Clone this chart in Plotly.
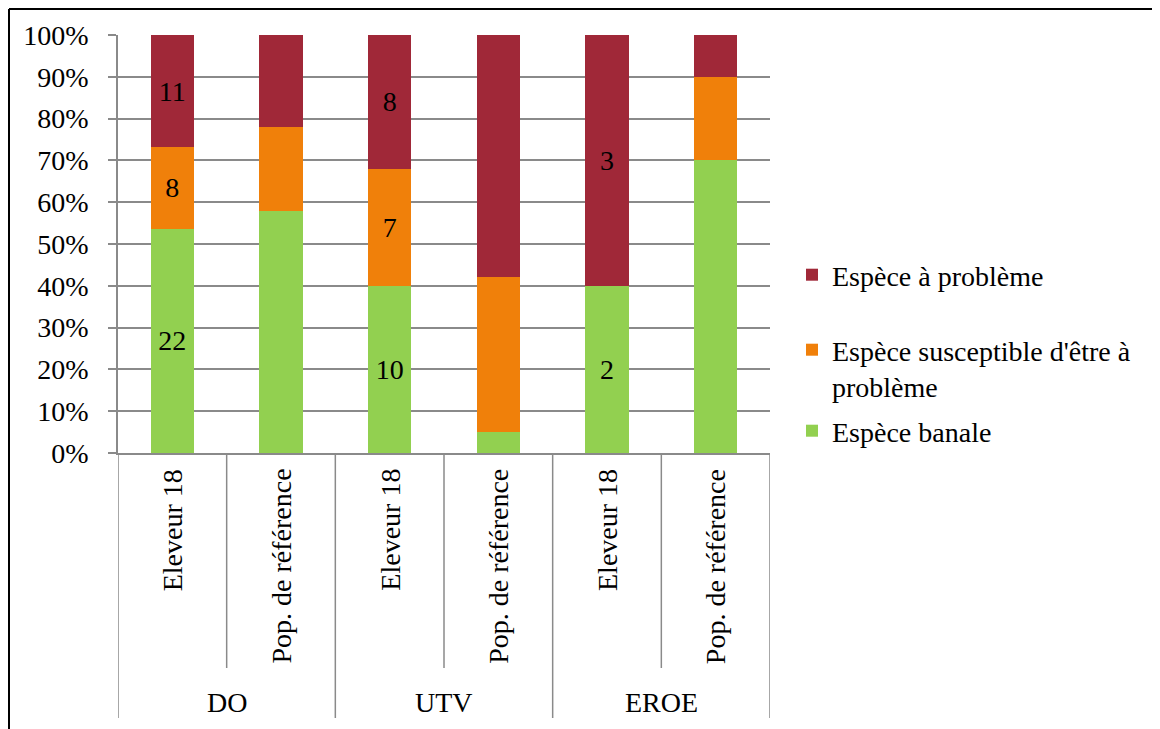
import plotly.graph_objects as go

# data
groups = ["DO", "UTV", "EROE"]
categories = ["Eleveur 18", "Pop. de référence",
              "Eleveur 18", "Pop. de référence",
              "Eleveur 18", "Pop. de référence"]
# Eleveur 18 bars are species counts, Pop. de référence bars are percentages
banale = [22, 58, 10, 5, 2, 70]
susceptible = [8, 20, 7, 37, 0, 20]
probleme = [11, 22, 8, 58, 3, 10]
is_count = [True, False, True, False, True, False]

series_names = ["Espèce banale", "Espèce susceptible d'être à<br>problème",
                "Espèce à problème"]
colors = ["#92D050", "#F0800A", "#A02838"]

FONT = "Liberation Serif"
FS = 28
GRID = "#8a8a8a"

# page body has an 8px margin, so the figure is 8px smaller and offset
OFF = 8
W, H = 1160 - OFF, 729 - OFF
L, T = 118 - OFF, 35 - OFF
PW, PH = 652, 418
R, B = W - L - PW, H - T - PH


def px_x(px):
    return (px - OFF - L) / PW


def px_y(py):
    return (T + PH - (py - OFF)) / PH


def label_text(vals):
    return [str(v) if c and v > 0 else "" for v, c in zip(vals, is_count)]


x_pos = list(range(len(categories)))

fig = go.Figure()
legend_ids = ["legend3", "legend2", "legend"]
for vals, name, col, lg in zip([banale, susceptible, probleme], series_names,
                               colors, legend_ids):
    fig.add_bar(x=x_pos, y=vals, name=name, marker_color=col,
                marker_line_width=0, text=label_text(vals),
                textposition="inside", insidetextanchor="middle",
                textfont=dict(family=FONT, size=FS, color="black"),
                constraintext="none", legend=lg, showlegend=True,
                hoverinfo="skip")

shapes = []
# dividers under the axis
for i in range(len(categories) + 1):
    xb = i - 0.5
    y_end = px_y(718) if i % 2 == 0 else px_y(668)
    shapes.append(dict(type="line", xref="x", yref="paper", x0=xb, x1=xb,
                       y0=0, y1=y_end, line=dict(color=GRID, width=1.5)))
# outer frame (left and top edges), kept just inside the figure
shapes.append(dict(type="line", xref="paper", yref="paper",
                   x0=px_x(OFF + 1), x1=px_x(OFF + 1), y0=px_y(OFF + 1),
                   y1=px_y(760), line=dict(color="black", width=2)))
shapes.append(dict(type="line", xref="paper", yref="paper",
                   x0=px_x(OFF + 1), x1=px_x(1200), y0=px_y(OFF + 1),
                   y1=px_y(OFF + 1), line=dict(color="black", width=2)))

annotations = []
for i, cat in enumerate(categories):
    annotations.append(dict(x=i, xref="x", y=0, yref="paper", yshift=-14,
                            text=cat, textangle=-90, showarrow=False,
                            xanchor="center", yanchor="top",
                            font=dict(family=FONT, size=FS, color="black")))
for g, grp in enumerate(groups):
    annotations.append(dict(x=2 * g + 0.5, xref="x", y=px_y(702), yref="paper",
                            text=grp, showarrow=False, xanchor="center",
                            yanchor="middle",
                            font=dict(family=FONT, size=FS, color="black")))

leg_common = dict(xanchor="left", yanchor="middle", bgcolor="rgba(0,0,0,0)",
                  font=dict(family=FONT, size=FS, color="black"),
                  valign="top", itemclick=False, itemdoubleclick=False)

fig.update_layout(
    width=W, height=H,
    margin=dict(l=L, r=R, t=T, b=B),
    paper_bgcolor="white", plot_bgcolor="white",
    barmode="stack", barnorm="percent", bargap=0.6,
    showlegend=True,
    font=dict(family=FONT, size=FS, color="black"),
    xaxis=dict(range=[-0.5, 5.5], showticklabels=False, showgrid=False,
               zeroline=False, ticks="", showline=True, linecolor=GRID,
               linewidth=1.5),
    yaxis=dict(range=[0, 100], dtick=10, ticksuffix="%", showgrid=True,
               gridcolor=GRID, gridwidth=1.5, zeroline=False, showline=True,
               linecolor=GRID, linewidth=1.5, ticks="outside", ticklen=8,
               tickcolor=GRID, tickwidth=1.5, ticklabelstandoff=14,
               tickfont=dict(family=FONT, size=FS, color="black")),
    legend=dict(x=px_x(792), y=px_y(275), **leg_common),
    legend2=dict(x=px_x(792), y=px_y(368), **leg_common),
    legend3=dict(x=px_x(792), y=px_y(431), **leg_common),
    shapes=shapes,
    annotations=annotations,
)

fig.write_html("out.html")
